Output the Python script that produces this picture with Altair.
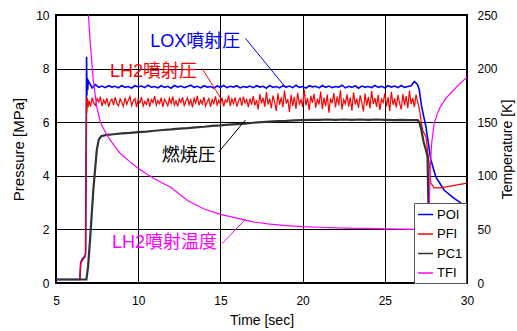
import altair as alt
import pandas as pd

FONT = "Liberation Sans, Arial, Noto Sans CJK JP"
SERIES = ["POI", "PFI", "PC1", "TFI"]
COLORS = ["#0000ff", "#ff0000", "#333333", "#ff00ff"]

# sampling grids of the steady (noisy) part
POI_GRID = [round(7.0 + 0.2 * i, 2) for i in range(101)]
PFI_GRID = [round(7.0 + 0.1 * i, 2) for i in range(201)]

POI_NOISE = [
    7.50, 7.28, 7.40, 7.30, 7.35, 7.29, 7.36, 7.31, 7.34, 7.28,
    7.37, 7.30, 7.33, 7.27, 7.36, 7.32, 7.35, 7.29, 7.38, 7.31,
    7.33, 7.28, 7.36, 7.30, 7.34, 7.27, 7.37, 7.31, 7.35, 7.29,
    7.33, 7.38, 7.30, 7.34, 7.28, 7.36, 7.31, 7.33, 7.27, 7.35,
    7.30, 7.37, 7.29, 7.34, 7.31, 7.36, 7.28, 7.33, 7.30, 7.35,
    7.29, 7.36, 7.31, 7.34, 7.27, 7.37, 7.30, 7.33, 7.28, 7.36,
    7.31, 7.35, 7.29, 7.38, 7.30, 7.33, 7.27, 7.36, 7.32, 7.34,
    7.28, 7.37, 7.30, 7.35, 7.29, 7.33, 7.31, 7.38, 7.28, 7.34,
    7.30, 7.36, 7.27, 7.35, 7.31, 7.33, 7.29, 7.37, 7.30, 7.34,
    7.28, 7.36, 7.31, 7.35, 7.29, 7.37, 7.30, 7.33, 7.36, 7.52, 7.40,
]
PFI_NOISE = [
    6.80, 6.58, 6.92, 6.71, 6.63, 6.88, 6.75, 6.95, 6.60, 6.83,
    6.69, 6.90, 6.57, 6.78, 6.86, 6.64, 6.93, 6.70, 6.61, 6.87,
    6.74, 6.59, 6.91, 6.67, 6.82, 6.96, 6.62, 6.79, 6.88, 6.56,
    6.85, 6.72, 6.94, 6.60, 6.77, 6.66, 6.90, 6.58, 6.84, 6.73,
    6.97, 6.63, 6.81, 6.69, 6.92, 6.57, 6.86, 6.75, 6.61, 6.89,
    6.70, 6.95, 6.64, 6.80, 6.59, 6.87, 6.73, 6.93, 6.62, 6.78,
    6.91, 6.66, 6.84, 6.55, 6.89, 6.71, 6.98, 6.63, 6.82, 6.68,
    6.94, 6.60, 6.76, 6.88, 6.57, 6.85, 6.70, 6.96, 6.64, 6.81,
    6.67, 6.92, 6.59, 6.83, 6.74, 7.00, 6.61, 6.87, 6.69, 6.93,
    6.58, 6.80, 6.90, 6.62, 6.95, 6.72, 6.85, 6.56, 6.88, 6.66,
    6.97, 6.63, 6.82, 6.48, 7.05, 6.70, 6.91, 6.58, 7.12, 6.66,
    6.88, 6.52, 6.99, 6.74, 6.42, 7.08, 6.65, 6.93, 6.56, 7.18,
    6.70, 6.86, 6.38, 7.02, 6.61, 6.95, 6.50, 7.10, 6.68, 6.84,
    6.57, 7.22, 6.63, 6.90, 6.45, 6.98, 6.72, 7.06, 6.54, 6.87,
    6.66, 7.14, 6.49, 6.92, 6.60, 7.03, 6.35, 6.89, 6.71, 7.09,
    6.55, 6.96, 6.64, 7.20, 6.47, 6.85, 6.69, 7.04, 6.58, 6.93,
    6.43, 7.11, 6.66, 6.88, 6.53, 7.00, 6.74, 6.40, 7.07, 6.62,
    6.95, 6.51, 7.16, 6.68, 6.90, 6.57, 7.02, 6.46, 6.86, 6.73,
    7.08, 6.59, 6.94, 6.41, 7.13, 6.65, 6.89, 6.55, 7.01, 6.70,
    6.48, 7.05, 6.63, 6.97, 6.52, 7.18, 6.67, 6.91, 6.56, 7.03,
    6.75,
]

POI_T = [5.0, 6.45, 6.5, 6.6, 6.75, 6.8, 6.86, 6.88, 6.9, 6.93, 6.96] + POI_GRID + \
        [27.1, 27.24, 27.5, 27.8, 28.1, 28.6, 29.2, 30.0]
POI_V = [0.13, 0.13, 0.75, 0.9, 1.0, 1.1, 8.44, 7.0, 7.6, 7.2, 7.55] + POI_NOISE + \
        [7.2, 6.58, 5.83, 4.6, 3.97, 3.47, 3.17, 2.83]

PFI_T = [5.0, 6.45, 6.5, 6.6, 6.75, 6.8, 6.86, 6.88, 6.91, 6.95] + PFI_GRID + \
        [27.1, 27.2, 27.3, 27.5, 27.7, 27.8, 28.0, 28.4, 30.0]
PFI_V = [0.13, 0.13, 0.7, 0.85, 0.95, 1.05, 6.95, 6.35, 6.9, 6.55] + PFI_NOISE + \
        [6.5, 6.08, 5.7, 5.46, 4.47, 3.73, 3.55, 3.55, 3.73]

PC1_T = [5.0, 6.85, 6.95, 7.07, 7.27, 7.48, 7.6, 7.75,
         8.0, 8.5, 9.0, 9.5, 10.0, 10.5, 11.0, 11.5, 12.0, 12.5,
         13.0, 13.5, 14.0, 14.5, 15.0, 15.5, 16.0, 16.5, 17.0, 17.5,
         18.0, 18.5, 19.0, 19.5, 20.0, 20.5, 21.0, 21.5, 22.0, 22.5,
         23.0, 23.5, 24.0, 24.5, 25.0, 25.5, 26.0, 26.5, 27.0,
         27.1, 27.2, 27.36, 27.5, 27.6, 27.65, 27.7, 27.75, 29.0]
PC1_V = [0.13, 0.13, 0.6, 1.6, 3.47, 4.96, 5.35, 5.48,
         5.52, 5.55, 5.58, 5.60, 5.63, 5.65, 5.68, 5.71, 5.73, 5.76,
         5.78, 5.81, 5.83, 5.86, 5.88, 5.91, 5.93, 5.95, 5.98, 6.00,
         6.02, 6.04, 6.05, 6.07, 6.08, 6.09, 6.09, 6.10, 6.09, 6.10,
         6.09, 6.10, 6.09, 6.10, 6.09, 6.08, 6.09, 6.08, 6.08,
         6.0, 5.78, 5.27, 4.96, 4.71, 3.0, 1.0, 0.4, 0.3]

TFI_T = [6.85, 6.95, 7.07, 7.27, 7.48, 7.7, 8.09, 8.5, 8.9, 9.5,
         10.0, 10.5, 11.0, 12.0, 13.0, 14.0, 15.0, 16.0, 17.0, 18.0,
         19.0, 20.0, 21.0, 22.0, 23.0, 24.0, 25.0, 26.0, 27.0, 27.3,
         27.5, 27.65, 27.7, 27.75, 27.85, 28.0, 28.2, 28.4, 28.7, 29.0,
         29.5, 30.0]
TFI_V = [330, 255, 227, 189, 164, 150, 138, 129, 121, 113,
         107, 102, 97, 89, 77, 69, 64, 60.5, 57, 55,
         53.5, 52.5, 52, 51.5, 51, 51, 50.5, 50.3, 50, 49,
         40, 20, 60, 105, 130, 149, 158, 165, 172, 177,
         185, 192]

ANN_TEXT = ["LOX噴射圧", "LH2噴射圧", "燃焼圧", "LH2噴射温度"]
ANN_T = [10.73, 8.29, 11.44, 8.40]
ANN_P = [8.82, 7.68, 4.55, 1.30]
ANN_COLOR = ["#0000ff", "#ff0000", "#000000", "#ff00ff"]
LEAD_T1 = [16.52, 13.88, 14.90, 15.10]
LEAD_P1 = [9.13, 8.01, 4.89, 1.47]
LEAD_T2 = [18.96, 15.10, 16.52, 16.52]
LEAD_P2 = [7.30, 6.82, 6.08, 2.37]


def frame(name, ts, vs):
    return pd.DataFrame({"t": ts, "v": vs, "s": name})


X = alt.X("t:Q", scale=alt.Scale(domain=[5, 30], nice=False, zero=False),
          axis=alt.Axis(values=[5, 10, 15, 20, 25, 30], title="Time [sec]", grid=True,
                        ticks=False, domain=False, labelPadding=12, titlePadding=7,
                        labelFlush=False, labelFontSize=12, titleFontSize=14, format="d"))


def yp(field):
    return alt.Y(field, type="quantitative", scale=alt.Scale(domain=[0, 10], nice=False),
                 axis=alt.Axis(values=[0, 2, 4, 6, 8, 10], title="Pressure [MPa]", grid=True,
                               ticks=False, domain=False, labelPadding=7, titlePadding=9,
                               labelFlush=False, labelFontSize=12, titleFontSize=15, format="d"))


YT = alt.Y("v:Q", scale=alt.Scale(domain=[0, 250], nice=False),
           axis=alt.Axis(orient="right", values=[0, 50, 100, 150, 200, 250],
                         title="Temperature [K]", grid=False, ticks=False, domain=False,
                         labelPadding=10, titlePadding=3, titleAngle=270, titleBaseline="top",
                         labelFlush=False, labelFontSize=12, titleFontSize=14, format="d"))

C = alt.Color("s:N", scale=alt.Scale(domain=SERIES, range=COLORS),
              legend=alt.Legend(title=None, orient="none", legendX=358, legendY=188,
                                fillColor="white", strokeColor="#555555", padding=3,
                                rowPadding=3.5, symbolType="stroke", symbolSize=225,
                                symbolStrokeWidth=1.5, labelFontSize=13, labelFont=FONT,
                                labelColor="black", labelOffset=3))

poi = alt.Chart(frame("POI", POI_T, POI_V)).mark_line(strokeWidth=1.6, clip=True).encode(x=X, y=yp("v"), color=C)
pfi = alt.Chart(frame("PFI", PFI_T, PFI_V)).mark_line(strokeWidth=1.2, clip=True).encode(x=X, y=yp("v"), color=C)
pc1 = alt.Chart(frame("PC1", PC1_T, PC1_V)).mark_line(strokeWidth=2.2, clip=True).encode(x=X, y=yp("v"), color=C)

ann_df = pd.DataFrame({"label": ANN_TEXT, "t": ANN_T, "v": ANN_P, "c": ANN_COLOR})
lead_df = pd.DataFrame({"t": LEAD_T1, "p1": LEAD_P1, "t2": LEAD_T2, "p2": LEAD_P2, "c": ANN_COLOR})

texts = alt.Chart(ann_df).mark_text(align="left", baseline="alphabetic", fontSize=18, font=FONT).encode(
    x=X, y=yp("v"), text="label:N", color=alt.Color("c:N", scale=None))
leads = alt.Chart(lead_df).mark_rule(strokeWidth=1).encode(
    x=X, y=yp("p1"), x2="t2:Q", y2="p2:Q", color=alt.Color("c:N", scale=None))

pressure = alt.layer(poi, pfi, pc1, leads, texts)
temp = alt.Chart(frame("TFI", TFI_T, TFI_V)).mark_line(strokeWidth=1.2, clip=True).encode(x=X, y=YT, color=C)

chart = alt.layer(pressure, temp).resolve_scale(y="independent").properties(
    width=411, height=268,
    padding={"left": 56, "top": 15, "right": 50, "bottom": 48},
    autosize=alt.AutoSizeParams(type="none"),
    background="white",
).configure_view(stroke="black", strokeWidth=2).configure_axis(
    labelFont=FONT, titleFont=FONT, labelColor="black", titleColor="black",
    titleFontWeight="normal", gridColor="#000000", gridWidth=1, gridOpacity=1,
)

chart.save("out.html", embed_options={"renderer": "svg", "actions": False})
